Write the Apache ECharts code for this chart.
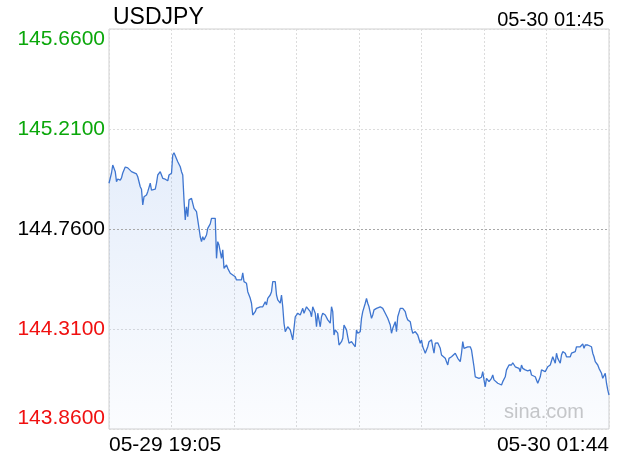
<!DOCTYPE html>
<html>
<head>
<meta charset="utf-8">
<script src="https://cdn.jsdelivr.net/npm/echarts@6/dist/echarts.min.js"></script>
<style>
html,body{margin:0;padding:0;background:#fff;}
#chart{width:620px;height:460px;}
</style>
</head>
<body>
<div id="chart"></div>
<script>
// ---- data ----
const symbol = 'USDJPY';
const timestamp = '05-30 01:45';
const xTickLabels = ['05-29 19:05', '05-30 01:44'];
const yTickLabels = ['143.8600', '144.3100', '144.7600', '145.2100', '145.6600'];
const yMin = 143.86, yMax = 145.66;
const prevClose = 144.76;
const minutes = [
  0,2,3,5,6,7,9,10,11,13,15,16,18,19,22,23,25,26,27,28,30,31,33,34,35,37,38,39,41,42,43,45,47,48,50,51,52,53,55,57,58,59,60,61,62,63,64,66,67,68,69,70,71,73,74,75,76,78,79,81,
  82,83,85,86,87,88,90,91,92,94,95,97,99,101,102,103,106,107,108,110,111,113,114,115,117,118,119,121,122,123,125,126,127,129,130,131,133,134,135,137,138,139,140,141,143,145,146,147,149,150,151,153,155,156,158,
  159,161,162,163,165,166,167,169,170,171,173,174,175,177,178,179,180,181,183,184,186,187,188,190,191,192,194,195,197,198,199,201,202,203,205,206,207,208,210,211,212,214,215,217,218,219,221,222,223,225,226,227,229,230,231,233,234,235,237,238,
  239,241,242,243,245,246,247,249,250,251,252,253,255,256,258,259,260,261,262,263,265,266,267,269,270,271,272,274,275,277,278,279,281,282,283,284,285,287,289,290,291,292,293,294,296,298,299,300,301,302,303,304,306,307,308,309,311,312,314,315,316,
  317,318,320,322,323,325,326,328,329,330,331,333,334,335,337,338,339,341,342,343,345,346,347,349,350,351,353,354,355,357,358,359,361,362,363,365,366,367,369,370,371,373,374,375,377,378,379,380,381,383,384,386,387,388,389,391,392,394,395,397,398,399,400
];
const prices = [
  144.966,145.012,145.048,145.018,144.973,144.985,144.980,144.990,145.012,145.039,145.035,145.036,145.018,145.011,145.008,144.995,144.950,144.939,144.868,144.905,144.913,144.928,144.966,144.935,144.943,144.939,144.966,145.003,145.018,145.003,144.988,144.984,144.977,145.003,145.011,145.093,145.103,145.098,145.063,145.040,145.018,145.003,144.891,144.801,144.860,144.815,144.891,144.898,144.890,144.853,144.846,144.838,144.801,144.725,144.703,144.725,144.711,144.733,144.763,144.783,
  144.808,144.815,144.808,144.628,144.703,144.688,144.628,144.666,144.583,144.598,144.583,144.561,144.553,144.545,144.531,144.538,144.531,144.563,144.523,144.516,144.478,144.448,144.426,144.373,144.388,144.403,144.403,144.410,144.418,144.410,144.433,144.418,144.448,144.463,144.478,144.523,144.523,144.463,144.441,144.426,144.463,144.410,144.336,144.298,144.320,144.306,144.298,144.261,144.365,144.365,144.381,144.373,144.403,144.381,144.410,
  144.418,144.388,144.365,144.410,144.381,144.320,144.381,144.320,144.365,144.381,144.373,144.365,144.351,144.336,144.410,144.388,144.283,144.306,144.291,144.238,144.253,144.268,144.328,144.306,144.275,144.246,144.253,144.246,144.230,144.306,144.291,144.298,144.358,144.388,144.426,144.448,144.426,144.410,144.358,144.373,144.396,144.403,144.410,144.410,144.418,144.403,144.381,144.373,144.358,144.328,144.291,144.313,144.343,144.298,144.365,144.403,144.410,144.403,144.388,144.365,
  144.351,144.343,144.313,144.291,144.298,144.295,144.283,144.246,144.261,144.230,144.216,144.201,144.230,144.253,144.261,144.230,144.201,144.246,144.238,144.248,144.223,144.193,144.185,144.178,144.163,144.148,144.178,144.185,144.185,144.201,144.208,144.178,144.163,144.201,144.253,144.223,144.230,144.230,144.230,144.216,144.178,144.140,144.095,144.088,144.088,144.093,144.118,144.081,144.050,144.088,144.081,144.073,144.088,144.103,144.081,144.081,144.066,144.073,144.058,144.073,144.073,
  144.095,144.126,144.148,144.148,144.158,144.140,144.138,144.133,144.118,144.148,144.133,144.126,144.129,144.122,144.126,144.103,144.111,144.095,144.088,144.066,144.095,144.126,144.129,144.118,144.113,144.140,144.148,144.140,144.185,144.156,144.201,144.178,144.156,144.193,144.208,144.201,144.185,144.193,144.185,144.201,144.201,144.208,144.230,144.223,144.230,144.223,144.243,144.223,144.238,144.238,144.230,144.230,144.201,144.185,144.163,144.148,144.133,144.111,144.088,144.111,144.066,144.036,144.013
];

const seriesData = minutes.map((m, i) => [m, prices[i]]);
const FONT = '"Liberation Sans", Arial, sans-serif';

const chart = echarts.init(document.getElementById('chart'), null, {renderer: 'canvas'});
chart.setOption({
  animation: false,
  backgroundColor: '#fff',
  title: [
    {text: symbol, left: 108, top: 1, textStyle: {fontFamily: FONT, fontSize: 23, fontWeight: 'normal', color: '#000'}},
    {text: timestamp, right: 11, top: 5, textStyle: {fontFamily: FONT, fontSize: 20, fontWeight: 'normal', color: '#000'}}
  ],
  graphic: [{
    type: 'text', right: 36, top: 402, silent: true,
    style: {text: 'sina.com', font: '20px ' + FONT, fill: '#c8c8c8'}
  }],
  grid: {left: 109, top: 29, right: 11, bottom: 31, show: true, borderColor: '#d0d0d0', borderWidth: 1, backgroundColor: 'transparent'},
  xAxis: {
    type: 'value', min: 0, max: 400, interval: 50,
    axisLine: {show: false}, axisTick: {show: false},
    splitLine: {show: true, lineStyle: {color: '#dcdcdc', type: [2, 2], width: 1}},
    axisLabel: {
      margin: 6, fontFamily: FONT, fontSize: 21, color: '#000',
      alignMinLabel: 'left', alignMaxLabel: 'right',
      formatter: v => v === 0 ? xTickLabels[0] : (v === 400 ? xTickLabels[1] : '')
    }
  },
  yAxis: [
    {type: 'value', min: yMin, max: yMax, show: false, position: 'left'},
    {
      type: 'value', min: 0, max: yTickLabels.length - 1, interval: 1, position: 'left', offset: 0,
      axisLine: {show: false}, axisTick: {show: false},
      splitLine: {show: true, lineStyle: {color: '#dcdcdc', type: [2, 2], width: 1}},
      axisLabel: {
        margin: 4, fontFamily: FONT, fontSize: 21,
        verticalAlignMinLabel: 'bottom', verticalAlignMaxLabel: 'top',
        formatter: v => {
          const s = yTickLabels[v];
          const val = parseFloat(s);
          const k = val > prevClose + 1e-9 ? 'g' : (val < prevClose - 1e-9 ? 'r' : 'k');
          return '{' + k + '|' + s + '}';
        },
        rich: {
          g: {color: '#0aa70a', fontFamily: FONT, fontSize: 21},
          r: {color: '#f01010', fontFamily: FONT, fontSize: 21},
          k: {color: '#000', fontFamily: FONT, fontSize: 21}
        }
      }
    }
  ],
  series: [{
    type: 'line', yAxisIndex: 0, data: seriesData, showSymbol: false, symbol: 'none',
    lineStyle: {color: '#3f76d0', width: 1.3},
    areaStyle: {
      origin: 'start',
      color: new echarts.graphic.LinearGradient(0, 0, 0, 1, [
        {offset: 0, color: 'rgba(70,130,225,0.20)'},
        {offset: 1, color: 'rgba(70,130,225,0.03)'}
      ])
    },
    markLine: {
      silent: true, symbol: 'none', label: {show: false},
      lineStyle: {color: '#a8a8a8', type: [2, 2], width: 1},
      data: [{yAxis: prevClose}]
    }
  }]
});
</script>
</body>
</html>
